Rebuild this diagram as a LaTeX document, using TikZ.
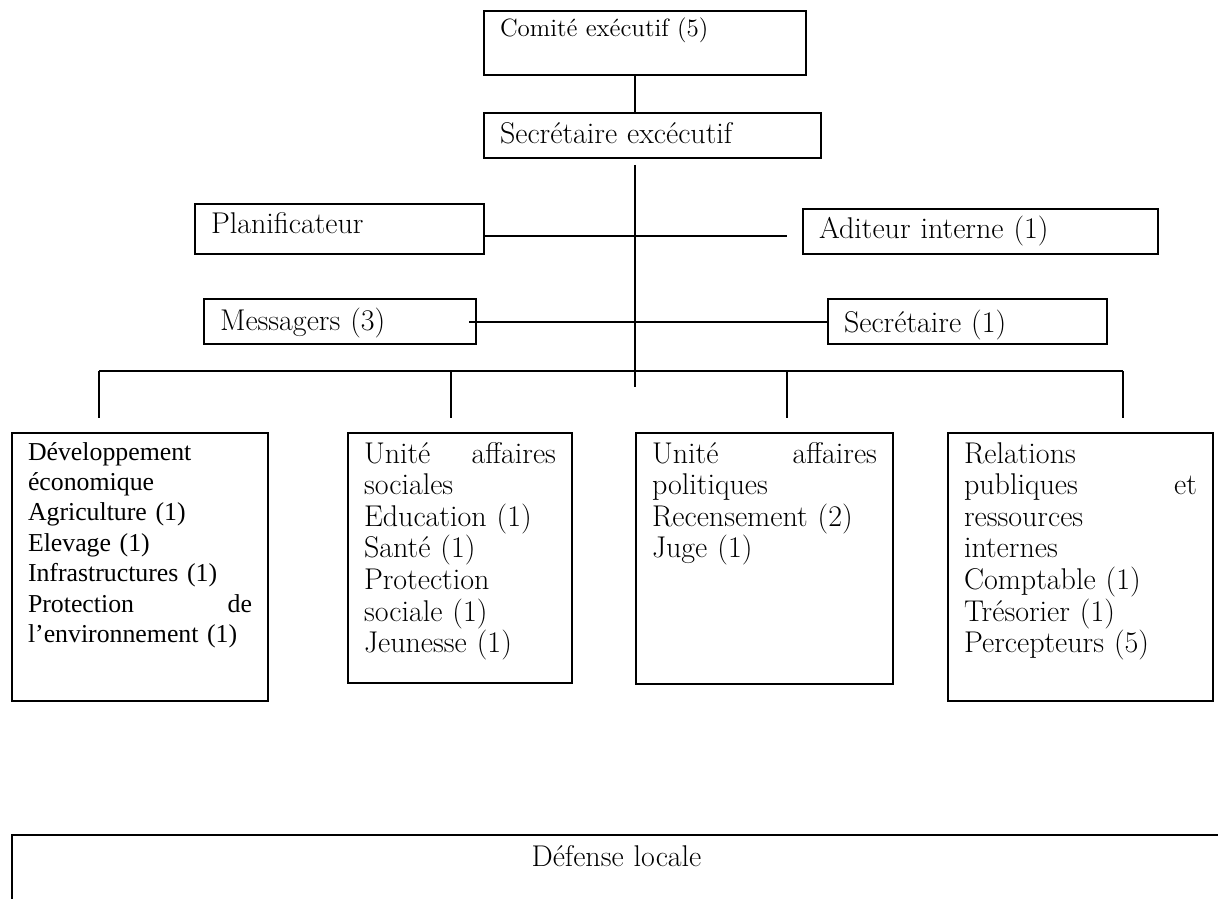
\documentclass[tikz,border=0pt]{standalone}
\usepackage{fontspec}
\newfontfamily\timesfont{Liberation Serif}

\begin{document}
\begin{tikzpicture}[
  x=0.5pt,
  y=-0.5pt,
  every node/.style={font=\fontsize{15}{15.8}\selectfont},
  post/.style={draw, line width=1pt, anchor=north west, inner xsep=8pt, inner ysep=0pt, align=left},
  link/.style={line width=1pt},
  smalltxt/.style={font=\fontsize{12.5}{14}\selectfont},
  tnr/.style={font=\timesfont\fontsize{12.9}{15.2}\selectfont}
]
\useasboundingbox (0,0) rectangle (1218,898);
\clip (0,0) rectangle (1218,898);

\node[post, smalltxt, text width=145pt, text height=13pt, text depth=19pt] (comite) at (483,10) {Comité exécutif (5)};
\node[post, text width=152.5pt, text height=15.5pt, text depth=7pt] (secexec) at (483,112) {Secrétaire excécutif};
\node[post, text width=128.5pt, text height=15pt, text depth=10pt] (planif) at (194,203) {Planificateur};
\node[post, text width=161.5pt, text height=15pt, text depth=7.5pt] (auditeur) at (802,208) {Aditeur interne (1)};
\node[post, text width=120pt, text height=15.5pt, text depth=7pt] (messagers) at (203,298) {Messagers (3)};
\node[post, text width=123.5pt, text height=16.5pt, text depth=6pt] (secr) at (827,298) {Secrétaire (1)};

\node[post, tnr, text width=112pt, text height=13.5pt, text depth=120.5pt] (dev) at (11,432) {Développement\\économique\\Agriculture (1)\\Elevage (1)\\Infrastructures (1)\\Protection \hfill de\\l’environnement (1)};
\node[post, text width=96pt, text height=15pt, text depth=110pt] (soc) at (347,432) {Unité \hfill affaires\\sociales\\Education (1)\\Santé (1)\\Protection\\sociale (1)\\Jeunesse (1)};
\node[post, text width=112.5pt, text height=15pt, text depth=110.5pt] (pol) at (635,432) {Unité \hfill affaires\\politiques\\Recensement (2)\\Juge (1)};
\node[post, text width=116.5pt, text height=15pt, text depth=119pt] (rel) at (947,432) {Relations\\publiques \hfill et\\ressources\\internes\\Comptable (1)\\Trésorier (1)\\Percepteurs (5)};

\node[post, align=center, text width=588.5pt, text height=15.5pt, text depth=40pt] (defense) at (11,834) {Défense locale};

\coordinate (spine) at (635,0);
\coordinate (hub) at (635,387);
\coordinate (planrow) at (0,236);
\coordinate (busL) at (99,371);
\coordinate (busR) at (1123,371);

\draw[link] (comite.south -| spine) -- (secexec.north -| spine);
\draw[link] ([yshift=-3pt]secexec.south -| spine) -- (hub);
\draw[link] (planif.east |- planrow) -- ([xshift=-7.5pt]auditeur.west |- planrow);
\draw[link] ([xshift=-4pt]messagers.east) -- (secr.west);
\draw[link] (busL) -- (busR);
\foreach \bx/\bn in {99/dev,451/soc,787/pol,1123/rel}{
  \coordinate (tap-\bn) at (\bx,371);
  \draw[link] (tap-\bn) -- ([yshift=7pt]\bn.north -| tap-\bn);
}
\end{tikzpicture}
\end{document}
